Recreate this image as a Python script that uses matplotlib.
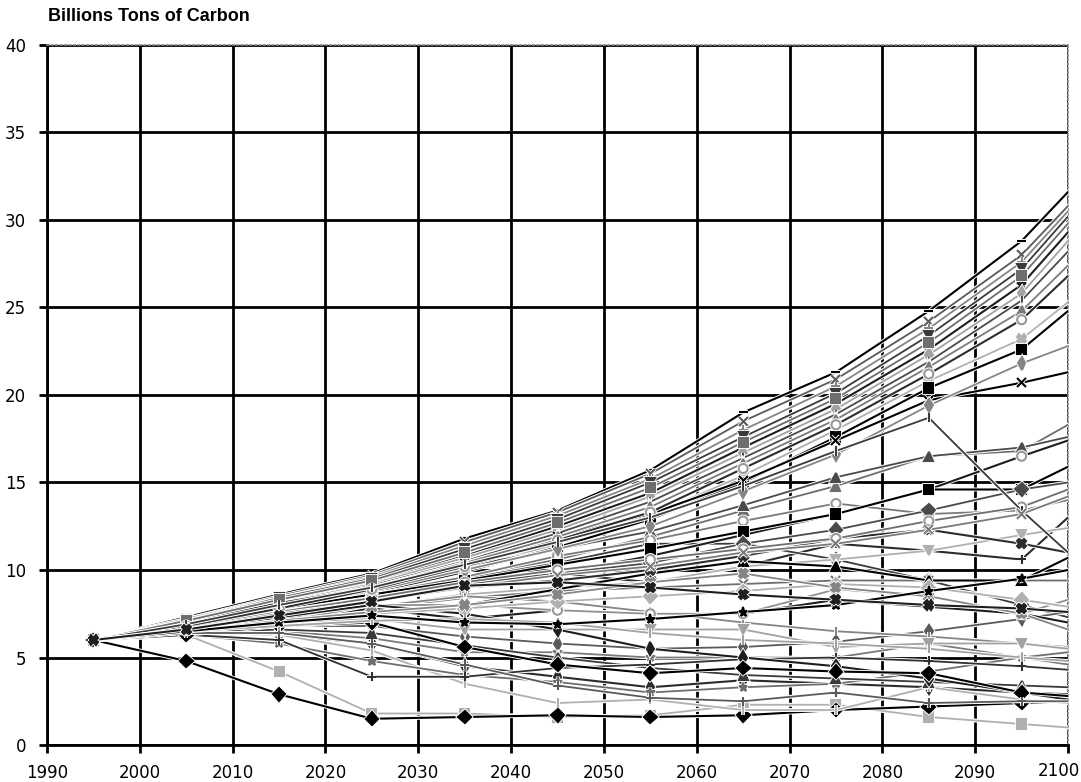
import matplotlib
matplotlib.use("Agg")
import matplotlib.pyplot as plt
import matplotlib.patheffects as pe
import matplotlib.transforms as mtransforms

# ---------------- data ----------------
years = [1995, 2005, 2015, 2025, 2035, 2045, 2055, 2065, 2075, 2085, 2095, 2100]

s01 = [6.0, 7.3, 8.6, 9.8, 11.8, 13.4, 15.7, 19.0, 21.3, 24.8, 28.8, 31.6]
s02 = [6.0, 7.2, 8.5, 9.7, 11.6, 13.3, 15.5, 18.5, 20.9, 24.2, 28.0, 30.8]
s03 = [6.0, 7.2, 8.4, 9.6, 11.4, 13.1, 15.2, 18.0, 20.5, 23.8, 27.6, 30.5]
s04 = [6.0, 7.1, 8.4, 9.5, 11.2, 12.9, 15.0, 17.6, 20.1, 23.4, 27.2, 30.2]
s05 = [6.0, 7.1, 8.3, 9.4, 11.0, 12.7, 14.7, 17.3, 19.8, 23.0, 26.8, 29.8]
s06 = [6.0, 7.0, 8.2, 9.3, 10.8, 12.5, 14.4, 17.0, 19.5, 22.6, 26.3, 29.3]
s07 = [6.0, 7.0, 8.1, 9.2, 10.7, 12.3, 14.2, 16.7, 19.2, 22.3, 25.8, 28.8]
s08 = [6.0, 6.9, 8.0, 9.1, 10.5, 12.1, 13.9, 16.4, 18.9, 21.9, 25.4, 28.2]
s09 = [6.0, 6.9, 7.9, 9.0, 10.4, 11.9, 13.6, 16.1, 18.6, 21.6, 24.8, 27.4]
s10 = [6.0, 6.8, 7.8, 8.9, 10.2, 11.7, 13.3, 15.8, 18.3, 21.2, 24.3, 26.8]
s11 = [6.0, 6.8, 7.7, 8.8, 10.0, 11.5, 13.1, 15.4, 18.0, 20.8, 23.2, 25.3]
s12 = [6.0, 6.8, 7.7, 8.7, 9.9, 11.3, 12.9, 15.0, 17.6, 20.4, 22.6, 24.8]
s13 = [6.0, 7.0, 8.1, 9.0, 10.4, 11.9, 13.2, 15.1, 17.4, 19.7, 20.7, 21.3]
s14 = [6.0, 6.9, 7.9, 8.8, 10.0, 11.2, 12.5, 14.5, 16.6, 19.4, 21.8, 22.8]
s15 = [6.0, 6.9, 8.0, 9.0, 10.3, 11.6, 13.0, 14.8, 16.8, 18.7, 13.4, 11.0]
s16 = [6.0, 6.7, 7.6, 8.5, 9.6, 10.6, 11.9, 13.4, 14.8, 16.5, 16.8, 18.3]
s17 = [6.0, 6.6, 7.4, 8.2, 9.0, 9.8, 10.8, 12.0, 13.2, 14.6, 16.5, 17.4]
s18 = [6.0, 6.8, 7.8, 8.6, 9.4, 10.3, 11.2, 12.2, 13.2, 14.6, 14.6, 15.9]
s19 = [6.0, 6.7, 7.6, 8.4, 9.2, 9.8, 10.4, 11.5, 12.3, 13.4, 14.6, 15.0]
s20 = [6.0, 6.6, 7.5, 8.2, 9.0, 9.7, 10.2, 11.0, 11.5, 12.3, 13.2, 14.2]
s21 = [6.0, 6.7, 7.5, 8.3, 9.4, 9.8, 9.3, 10.2, 11.5, 11.1, 10.6, 13.0]
s22 = [6.0, 6.5, 7.2, 7.9, 8.6, 9.0, 9.3, 10.2, 10.6, 11.1, 12.0, 12.4]
s23 = [6.0, 6.6, 7.4, 8.0, 8.0, 8.9, 9.8, 10.5, 10.2, 9.4, 9.4, 10.7]
s24 = [6.0, 6.4, 7.0, 8.0, 8.0, 7.7, 7.5, 7.5, 8.9, 8.5, 7.5, 8.3]
s25 = [6.0, 6.5, 7.1, 7.6, 8.0, 8.6, 9.3, 9.8, 9.0, 8.5, 7.5, 6.6]
s26 = [6.0, 6.6, 7.4, 8.3, 9.5, 10.4, 11.5, 11.5, 10.6, 9.4, 8.0, 7.3]
s27 = [6.0, 6.6, 7.3, 7.8, 8.4, 8.8, 9.0, 9.2, 9.4, 9.4, 9.4, 9.4]
s28 = [6.0, 6.5, 7.2, 7.8, 7.2, 7.7, 7.5, 7.5, 8.3, 7.9, 7.5, 7.0]
s29 = [6.0, 6.4, 7.0, 7.2, 6.6, 6.6, 6.6, 6.6, 5.6, 5.8, 5.8, 5.5]
s30 = [6.0, 6.3, 6.8, 7.0, 5.6, 4.6, 4.1, 4.4, 4.2, 4.1, 3.0, 2.8]
s31 = [6.0, 6.3, 6.5, 6.1, 5.3, 5.3, 5.0, 5.0, 5.0, 5.8, 5.0, 4.6]
s32 = [6.0, 6.3, 6.3, 5.8, 4.5, 3.9, 3.3, 3.7, 3.5, 3.3, 3.0, 2.9]
s33 = [6.0, 6.4, 6.3, 5.4, 3.5, 2.4, 2.6, 2.0, 2.0, 3.3, 2.6, 2.4]
s34 = [6.0, 6.3, 6.0, 3.9, 3.9, 4.4, 4.6, 4.9, 5.0, 4.8, 4.5, 4.3]
s35 = [6.0, 6.4, 6.4, 5.8, 4.6, 3.4, 2.7, 2.5, 3.0, 2.4, 2.5, 2.5]
s36 = [6.0, 6.3, 4.2, 1.8, 1.8, 1.6, 1.7, 2.3, 2.3, 1.6, 1.2, 1.0]
s37 = [6.0, 4.8, 2.9, 1.5, 1.6, 1.7, 1.6, 1.7, 2.0, 2.2, 2.4, 2.5]
s38 = [6.0, 6.3, 5.8, 4.8, 4.0, 3.6, 3.0, 3.3, 3.5, 4.2, 5.0, 5.3]
s39 = [6.0, 6.5, 7.3, 8.0, 7.5, 6.6, 5.5, 5.0, 4.5, 3.8, 3.0, 2.6]
s40 = [6.0, 6.5, 6.8, 7.1, 7.2, 7.0, 6.4, 6.0, 5.8, 5.5, 5.0, 4.8]
s41 = [6.0, 6.9, 8.0, 9.0, 10.2, 11.2, 12.2, 13.7, 15.3, 16.5, 17.0, 17.6]
s42 = [6.0, 6.7, 7.7, 8.6, 9.6, 10.8, 11.7, 12.8, 13.8, 13.2, 13.4, 14.0]
s43 = [6.0, 6.6, 7.4, 8.2, 9.0, 9.4, 10.0, 10.8, 11.8, 12.3, 11.5, 11.0]
s44 = [6.0, 6.5, 7.1, 7.5, 7.8, 8.2, 8.5, 8.8, 9.2, 9.0, 8.3, 7.9]
s45 = [6.0, 6.5, 7.0, 7.4, 7.0, 6.9, 7.2, 7.6, 8.0, 8.8, 9.5, 10.0]
s46 = [6.0, 6.4, 6.8, 6.8, 6.2, 5.8, 5.5, 5.6, 5.9, 6.5, 7.2, 7.6]
s47 = [6.0, 6.6, 7.3, 7.9, 8.5, 8.2, 7.6, 7.0, 6.5, 6.2, 5.8, 5.6]
s48 = [6.0, 6.4, 6.6, 6.4, 5.7, 5.0, 4.4, 4.0, 3.8, 3.6, 3.4, 3.3]
s49 = [6.0, 6.7, 7.6, 8.4, 9.3, 10.0, 10.6, 11.2, 11.8, 12.8, 13.6, 14.6]
s50 = [6.0, 6.6, 7.4, 8.2, 9.1, 9.3, 9.0, 8.6, 8.3, 8.0, 7.8, 7.6]

series = [s01, s02, s03, s04, s05, s06, s07, s08, s09, s10, s11, s12, s13, s14,
          s15, s16, s17, s18, s19, s20, s21, s22, s23, s24, s25, s26, s27, s28,
          s29, s30, s31, s32, s33, s34, s35, s36, s37, s38, s39, s40, s41, s42,
          s43, s44, s45, s46, s47, s48, s49, s50]

x_ticks = [1990, 2000, 2010, 2020, 2030, 2040, 2050, 2060, 2070, 2080, 2090, 2100]
y_ticks = [0, 5, 10, 15, 20, 25, 30, 35, 40]
title_text = "Billions Tons of Carbon"

# ---------------- styles ----------------
line_colors = ['#000000', '#5a5a5a', '#858585', '#3a3a3a', '#6e6e6e', '#1e1e1e',
               '#a2a2a2', '#4a4a4a', '#7a7a7a', '#2c2c2c', '#b0b0b0']
marker_styles = ['D', 's', '^', 'x', '*', 'o', '+', 'd', 'X', 'v', '|']

fig = plt.figure(figsize=(10.81, 7.82), dpi=100)
ax = fig.add_axes([0.0435, 0.0473, 0.9445, 0.8952])

halo = [pe.Stroke(linewidth=2.8, foreground='white'), pe.Normal()]

special = {0: ('#000000', '_'), 12: ('#000000', 'x'), 17: ('#000000', 's'),
           29: ('#000000', 'D'), 36: ('#000000', 'D'), 35: ('#b0b0b0', 's'),
           23: ('#909090', 'o'), 33: ('#303030', '+')}

for i, s in enumerate(series):
    col = line_colors[i % len(line_colors)]
    mk = marker_styles[(i * 3 + i // 11) % len(marker_styles)]
    if i in special:
        col, mk = special[i]
    face = col
    edge = col
    if mk == 'o':
        face, edge = 'white', '#999999'
    lw = 1.5 if col in ('#000000', '#1e1e1e', '#2c2c2c') else 1.3
    ax.plot(years, s, color=col, lw=lw, marker=mk, markersize=6.5,
            markerfacecolor=face, markeredgecolor=edge, markeredgewidth=1.5,
            markevery=slice(0, 11), path_effects=halo, zorder=3 + (i % 5) * 0.01,
            clip_on=True)

ax.set_xlim(1990, 2100)
ax.set_ylim(0, 40)
ax.set_xticks(x_ticks)
ax.set_yticks(y_ticks)
ax.set_xticklabels([str(t) for t in x_ticks[:-1]] + [''])
ax.grid(True, color='black', linewidth=2, zorder=1)
ax.set_axisbelow(True)

for side in ['top', 'right']:
    ax.spines[side].set_color('#888888')
    ax.spines[side].set_linestyle(':')
    ax.spines[side].set_linewidth(1.2)
for side in ['left', 'bottom']:
    ax.spines[side].set_color('black')
    ax.spines[side].set_linewidth(2)

ax.tick_params(axis='both', direction='out', length=6, width=2, colors='black',
               labelsize=12)
ax.tick_params(axis='y', pad=9)
ax.tick_params(axis='x', pad=8)

# last x label, shifted so it stays inside the figure
trans = mtransforms.blended_transform_factory(ax.transData, ax.transAxes)
off = mtransforms.ScaledTranslation(-0.09, -0.17, fig.dpi_scale_trans)
ax.text(x_ticks[-1], 0, str(x_ticks[-1]), transform=trans + off, fontsize=12,
        ha='center', va='top', clip_on=False)

fig.text(0.0445, 0.9795, title_text, fontsize=13, fontweight='bold',
         family='Liberation Sans', ha='left', va='center')

fig.savefig("out.png", dpi=100)
